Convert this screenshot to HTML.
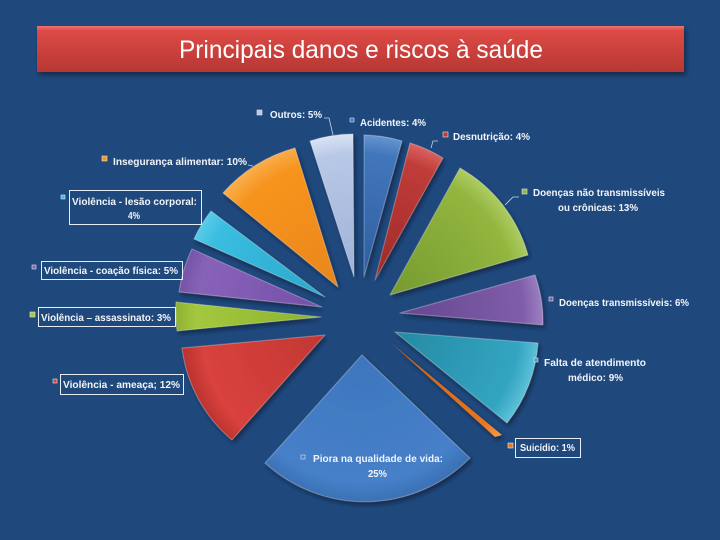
<!DOCTYPE html>
<html><head><meta charset="utf-8"><style>
html,body{margin:0;padding:0;background:#1F497D;}
svg{display:block;}
text{font-family:"Liberation Sans",sans-serif;}
</style></head><body>
<svg width="720" height="540" viewBox="0 0 720 540" xmlns="http://www.w3.org/2000/svg">
<defs>
<filter id="sh" x="-20%" y="-20%" width="140%" height="140%">
<feDropShadow dx="2" dy="3" stdDeviation="2" flood-color="#0b1d36" flood-opacity="0.7"/>
</filter>
<linearGradient id="tg" x1="0" y1="0" x2="0" y2="1">
<stop offset="0" stop-color="#F07472"/><stop offset="0.1" stop-color="#DD4A46"/><stop offset="1" stop-color="#B73733"/>
</linearGradient>
<radialGradient id="g1" gradientUnits="userSpaceOnUse" cx="364" cy="277" r="145"><stop offset="0" stop-color="#2E5E9E"/><stop offset="0.85" stop-color="#4276BB"/><stop offset="1" stop-color="#6A98D4"/></radialGradient>
<radialGradient id="g2" gradientUnits="userSpaceOnUse" cx="375" cy="280" r="143"><stop offset="0" stop-color="#9E2A28"/><stop offset="0.85" stop-color="#C03C39"/><stop offset="1" stop-color="#DC6663"/></radialGradient>
<radialGradient id="g3" gradientUnits="userSpaceOnUse" cx="390" cy="295" r="147"><stop offset="0" stop-color="#769A30"/><stop offset="0.85" stop-color="#93B63F"/><stop offset="1" stop-color="#B0CF67"/></radialGradient>
<radialGradient id="g4" gradientUnits="userSpaceOnUse" cx="400" cy="313" r="144"><stop offset="0" stop-color="#654790"/><stop offset="0.85" stop-color="#7F5DA9"/><stop offset="1" stop-color="#9E82C4"/></radialGradient>
<radialGradient id="g5" gradientUnits="userSpaceOnUse" cx="395" cy="332" r="146"><stop offset="0" stop-color="#2689A3"/><stop offset="0.85" stop-color="#33A5C1"/><stop offset="1" stop-color="#62C3DB"/></radialGradient>
<radialGradient id="g6" gradientUnits="userSpaceOnUse" cx="390" cy="342" r="147"><stop offset="0" stop-color="#C9601A"/><stop offset="0.85" stop-color="#E8771F"/><stop offset="1" stop-color="#F7A050"/></radialGradient>
<radialGradient id="g7" gradientUnits="userSpaceOnUse" cx="362" cy="355" r="150"><stop offset="0" stop-color="#3E76BE"/><stop offset="0.85" stop-color="#4680C8"/><stop offset="1" stop-color="#3A6FB2"/></radialGradient>
<radialGradient id="g8" gradientUnits="userSpaceOnUse" cx="325" cy="335" r="144"><stop offset="0" stop-color="#C23733"/><stop offset="0.85" stop-color="#D9423D"/><stop offset="1" stop-color="#B8322E"/></radialGradient>
<radialGradient id="g9" gradientUnits="userSpaceOnUse" cx="321" cy="317" r="147"><stop offset="0" stop-color="#8CB22E"/><stop offset="0.85" stop-color="#A3C83E"/><stop offset="1" stop-color="#8CAF30"/></radialGradient>
<radialGradient id="g10" gradientUnits="userSpaceOnUse" cx="322" cy="307" r="145"><stop offset="0" stop-color="#7550A8"/><stop offset="0.85" stop-color="#8862B8"/><stop offset="1" stop-color="#7552A6"/></radialGradient>
<radialGradient id="g11" gradientUnits="userSpaceOnUse" cx="325" cy="297" r="145"><stop offset="0" stop-color="#2AA8CC"/><stop offset="0.85" stop-color="#3ABDE0"/><stop offset="1" stop-color="#5CCCEA"/></radialGradient>
<radialGradient id="g12" gradientUnits="userSpaceOnUse" cx="338" cy="287" r="149"><stop offset="0" stop-color="#E9861A"/><stop offset="0.85" stop-color="#F7941F"/><stop offset="1" stop-color="#FAB050"/></radialGradient>
<radialGradient id="g13" gradientUnits="userSpaceOnUse" cx="354" cy="277" r="145"><stop offset="0" stop-color="#9FB2D8"/><stop offset="0.85" stop-color="#B8C8E6"/><stop offset="1" stop-color="#DCE5F4"/></radialGradient>
</defs>

<rect width="720" height="540" fill="#1F497D"/>

<!-- Title banner -->
<rect x="37" y="26" width="647" height="46" fill="url(#tg)" filter="url(#sh)"/>
<text x="179" y="58" font-size="25" fill="#FFFFFF" textLength="364" lengthAdjust="spacingAndGlyphs">Principais danos e riscos à saúde</text>

<!-- Slices -->
<g filter="url(#sh)" stroke-linejoin="round">
<path d="M364,277 L364,135 A143,143 0 0 1 402,141 Z" fill="url(#g1)"/>
<path d="M375,280 L410,143 A141,141 0 0 1 443,158 Z" fill="url(#g2)"/>
<path d="M390,295 L460,168 A145,145 0 0 1 528,255 Z" fill="url(#g3)"/>
<path d="M400,313 L535,275 A142,142 0 0 1 543,325 Z" fill="url(#g4)"/>
<path d="M395,332 L538,343 A144,144 0 0 1 507,423 Z" fill="url(#g5)"/>
<path d="M390,342 L502,435 A145,145 0 0 1 495,437 Z" fill="url(#g6)"/>
<path d="M362,355 L470,458 A148,148 0 0 1 265,463 Z" fill="url(#g7)"/>
<path d="M325,335 L232,440 A142,142 0 0 1 182,348 Z" fill="url(#g8)"/>
<path d="M321,317 L177,331 A145,145 0 0 1 176,302 Z" fill="url(#g9)"/>
<path d="M322,307 L179,292 A143,143 0 0 1 192,249 Z" fill="url(#g10)"/>
<path d="M325,297 L194,239 A143,143 0 0 1 211,211 Z" fill="url(#g11)"/>
<path d="M338,287 L223,193 A147,147 0 0 1 295,148 Z" fill="url(#g12)"/>
<path d="M354,277 L310,141 A143,143 0 0 1 353,134 Z" fill="url(#g13)"/>
</g>
<g fill="none" stroke="#FFFFFF" stroke-opacity="0.28" stroke-width="1.2" stroke-linejoin="round">
<path d="M364,277 L364,135 A143,143 0 0 1 402,141 Z"/>
<path d="M375,280 L410,143 A141,141 0 0 1 443,158 Z"/>
<path d="M390,295 L460,168 A145,145 0 0 1 528,255 Z"/>
<path d="M400,313 L535,275 A142,142 0 0 1 543,325 Z"/>
<path d="M395,332 L538,343 A144,144 0 0 1 507,423 Z"/>
<path d="M362,355 L470,458 A148,148 0 0 1 265,463 Z"/>
<path d="M325,335 L232,440 A142,142 0 0 1 182,348 Z"/>
<path d="M321,317 L177,331 A145,145 0 0 1 176,302 Z"/>
<path d="M322,307 L179,292 A143,143 0 0 1 192,249 Z"/>
<path d="M325,297 L194,239 A143,143 0 0 1 211,211 Z"/>
<path d="M338,287 L223,193 A147,147 0 0 1 295,148 Z"/>
<path d="M354,277 L310,141 A143,143 0 0 1 353,134 Z"/>
</g>

<!-- Leader lines -->
<g fill="none" stroke="#C8D4E4" stroke-width="0.8">
<polyline points="324,118 329,118 333,135"/>
<polyline points="431,148 433,141 438,141"/>
<polyline points="505,205 513,197 519,197"/>
<polyline points="248,165 253,166"/>
</g>

<!-- Label boxes -->
<g fill="none" stroke="#E6ECF4" stroke-width="1">
<rect x="515.5" y="438.5" width="65" height="19"/>
<rect x="60.5" y="374.5" width="123" height="20"/>
<rect x="38.5" y="307.5" width="137" height="19"/>
<rect x="41.5" y="261.5" width="141" height="18"/>
<rect x="69.5" y="190.5" width="132" height="34"/>
</g>

<!-- Markers -->
<g stroke="#E0E6EE" stroke-width="0.6">
<rect x="257" y="110" width="5" height="5" fill="#B8C8E6"/>
<rect x="350" y="118" width="4" height="4" fill="#4276BB"/>
<rect x="443" y="132" width="5" height="5" fill="#C03C39"/>
<rect x="522" y="189" width="5" height="5" fill="#93B63F"/>
<rect x="549" y="297" width="4" height="4" fill="#7F5DA9"/>
<rect x="534" y="358" width="4" height="4" fill="#33A5C1"/>
<rect x="508" y="443" width="5" height="5" fill="#E8771F"/>
<rect x="301" y="455" width="4" height="4" fill="#4680C8"/>
<rect x="53" y="379" width="4" height="4" fill="#D9423D"/>
<rect x="30" y="312" width="5" height="5" fill="#A3C83E"/>
<rect x="32" y="265" width="4" height="4" fill="#8862B8"/>
<rect x="61" y="195" width="4" height="4" fill="#3ABDE0"/>
<rect x="102" y="156" width="5" height="5" fill="#F7941F"/>
</g>

<!-- Labels -->
<g fill="#F2F4F8" font-size="10.5" font-weight="bold">
<text x="270" y="118" textLength="52" lengthAdjust="spacingAndGlyphs">Outros: 5%</text>
<text x="360" y="126" textLength="66" lengthAdjust="spacingAndGlyphs">Acidentes: 4%</text>
<text x="453" y="140" textLength="77" lengthAdjust="spacingAndGlyphs">Desnutrição: 4%</text>
<text x="533" y="196" textLength="132" lengthAdjust="spacingAndGlyphs">Doenças não transmissíveis</text>
<text x="558" y="211" textLength="80" lengthAdjust="spacingAndGlyphs">ou crônicas: 13%</text>
<text x="559" y="306" textLength="130" lengthAdjust="spacingAndGlyphs">Doenças transmissíveis: 6%</text>
<text x="544" y="366" textLength="102" lengthAdjust="spacingAndGlyphs">Falta de atendimento</text>
<text x="568" y="381" textLength="55" lengthAdjust="spacingAndGlyphs">médico: 9%</text>
<text x="520" y="451" textLength="55" lengthAdjust="spacingAndGlyphs">Suicídio: 1%</text>
<text x="313" y="462" textLength="130" lengthAdjust="spacingAndGlyphs">Piora na qualidade de vida:</text>
<text x="368" y="477" textLength="19" lengthAdjust="spacingAndGlyphs">25%</text>
<text x="63" y="388" textLength="117" lengthAdjust="spacingAndGlyphs">Violência - ameaça; 12%</text>
<text x="41" y="321" textLength="130" lengthAdjust="spacingAndGlyphs">Violência – assassinato: 3%</text>
<text x="44" y="274" textLength="134" lengthAdjust="spacingAndGlyphs">Violência - coação física: 5%</text>
<text x="72" y="205" textLength="125" lengthAdjust="spacingAndGlyphs">Violência - lesão corporal:</text>
<text x="128" y="219" textLength="12" lengthAdjust="spacingAndGlyphs">4%</text>
<text x="113" y="165" textLength="134" lengthAdjust="spacingAndGlyphs">Insegurança alimentar: 10%</text>
</g>
</svg>
</body></html>
